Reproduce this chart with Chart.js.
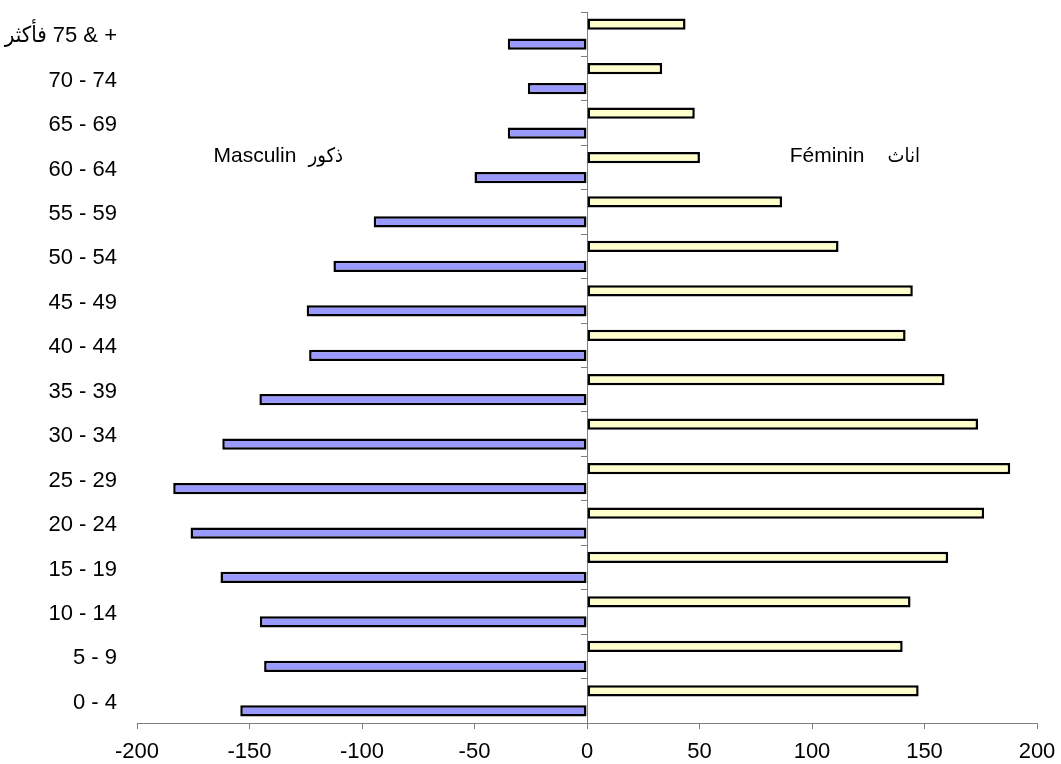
<!DOCTYPE html>
<html>
<head>
<meta charset="utf-8">
<script src="https://cdn.jsdelivr.net/npm/chart.js@4"></script>
<style>
  body { margin: 0; background: #fff; }
  #wrap { width: 1061px; height: 764px; }
</style>
</head>
<body>
<div id="wrap"><canvas id="myChart"></canvas></div>
<script>
// age groups, bottom to top
const ageGroups = ['0 - 4', '5 - 9', '10 - 14', '15 - 19', '20 - 24', '25 - 29', '30 - 34', '35 - 39',
                   '40 - 44', '45 - 49', '50 - 54', '55 - 59', '60 - 64', '65 - 69', '70 - 74', 'فأكثر\u200E 75 & +'];
const maleValues = [-154.1, -143.5, -145.4, -162.9, -176.2, -183.9, -162.1, -145.6,
                    -123.5, -124.6, -112.7, -94.8, -50.0, -35.2, -26.3, -35.2];
const femaleValues = [147.4, 140.3, 143.8, 160.5, 176.5, 188.1, 173.8, 158.9,
                      141.6, 144.8, 111.8, 86.7, 50.2, 47.9, 33.4, 43.8];
const xTicks = [-200, -150, -100, -50, 0, 50, 100, 150, 200];

const fontFamily = '"Liberation Sans", Arial, "DejaVu Sans Condensed", "DejaVu Sans", sans-serif';
const axisColor = '#808080';
Chart.defaults.color = '#000';
Chart.defaults.font.family = fontFamily;

// "Masculin ذكور" / "Féminin اناث" captions
var sexLabels = {
	id: 'sexLabels',
	afterDraw: function(chart) {
		var ctx = chart.ctx;
		var x = chart.scales.x, y = chart.scales.y;
		var rowY = y.getPixelForValue(12.25);
		ctx.save();
		ctx.fillStyle = '#000';
		ctx.textAlign = 'left';
		ctx.textBaseline = 'middle';
		ctx.font = '21px ' + fontFamily;
		ctx.fillText('Masculin', x.getPixelForValue(-166), rowY);
		ctx.fillText('Féminin', x.getPixelForValue(90.1), rowY);
		ctx.font = '20px ' + fontFamily;
		ctx.fillText('ذكور', x.getPixelForValue(-123.8), rowY);
		ctx.fillText('اناث', x.getPixelForValue(133.6), rowY);
		ctx.restore();
	}
};

new Chart(document.getElementById('myChart'), {
	type: 'bar',
	data: {
		labels: ageGroups,
		datasets: [{
			label: 'Féminin',
			data: femaleValues,
			backgroundColor: '#FFFFCC',
			borderColor: '#000',
			borderWidth: 2.5,
			borderSkipped: false
		}, {
			label: 'Masculin',
			data: maleValues,
			backgroundColor: '#9999FF',
			borderColor: '#000',
			borderWidth: 2.5,
			borderSkipped: false
		}]
	},
	options: {
		indexAxis: 'y',
		responsive: true,
		maintainAspectRatio: false,
		animation: false,
		categoryPercentage: 0.9,
		barPercentage: 0.56,
		layout: { padding: { top: 12, right: 24, bottom: 0, left: 0 } },
		plugins: {
			legend: { display: false },
			tooltip: { enabled: false }
		},
		scales: {
			x: {
				type: 'linear',
				min: xTicks[0],
				max: xTicks[xTicks.length - 1],
				ticks: { stepSize: 50, padding: 10, font: { size: 22 } },
				grid: { drawOnChartArea: false, drawTicks: true, tickLength: 6, color: axisColor },
				border: { color: axisColor },
				afterFit: function(s) { s.height = 41; s.paddingLeft = 0; s.paddingRight = 0; }
			},
			y: {
				reverse: true,
				ticks: { padding: 20, labelOffset: 2, font: { size: 22 } },
				grid: { display: false, drawTicks: false },
				border: { display: false },
				afterFit: function(s) { s.width = 137; s.paddingTop = 0; s.paddingBottom = 0; }
			},
			y2: {
				axis: 'y',
				type: 'category',
				position: { x: 0 },
				reverse: true,
				offset: true,
				ticks: { display: false },
				grid: { offset: true, drawOnChartArea: false, drawTicks: true, tickLength: 6, color: axisColor },
				border: { color: axisColor }
			}
		}
	},
	plugins: [sexLabels]
});
</script>
</body>
</html>
